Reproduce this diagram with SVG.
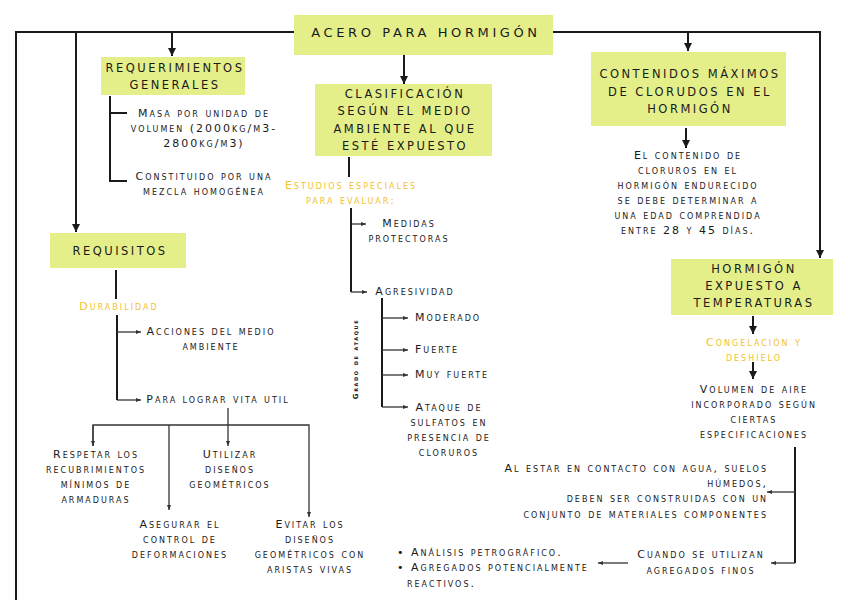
<svg xmlns="http://www.w3.org/2000/svg" width="848" height="600" viewBox="0 0 848 600">
<style>
.box{fill:#e4ef8a}
.t{font-family:"DejaVu Sans",sans-serif;font-size:11.5px;letter-spacing:2.5px;fill:#1a1a1a;text-anchor:middle}
.s{font-family:"DejaVu Sans",sans-serif;font-size:11px;font-variant:small-caps;letter-spacing:2px;fill:#1a1a1a;text-anchor:middle}
.o{fill:#f2c12e}
.ln{fill:none;stroke:#1a1a1a;stroke-width:2}
.th{fill:none;stroke:#333;stroke-width:1.3}
</style>
<defs>
<marker id="a" markerUnits="userSpaceOnUse" markerWidth="10" markerHeight="10" refX="8" refY="5" orient="auto"><path d="M0,1 L8,5 L0,9 z" fill="#1a1a1a"/></marker>
<marker id="d" markerUnits="userSpaceOnUse" markerWidth="6" markerHeight="6" refX="5" refY="3" orient="auto"><path d="M0,1 L5,3 L0,5 z" fill="#333"/></marker>
</defs>
<g id="connectors">
<path class="ln" d="M16,600 V32 H294 M553,32 H820 V258" marker-end="url(#a)"/>
<path class="ln" d="M76,32 V232" marker-end="url(#a)"/>
<path class="ln" d="M172,32 V56" marker-end="url(#a)"/>
<path class="ln" d="M404,55 V84" marker-end="url(#a)"/>
<path class="ln" d="M688,32 V51" marker-end="url(#a)"/>
<path class="ln" d="M686,128 V148" marker-end="url(#a)"/>
<path class="ln" d="M753,316 V334" marker-end="url(#a)"/>
<path class="ln" d="M753,362 V379" marker-end="url(#a)"/>
<path class="ln" d="M110,96 V181 H127 M110,113 H127"/>
<path class="ln" d="M349,157 V177"/>
<path class="ln" d="M351,208 V292"/>
<path class="th" d="M351,224 H366" marker-end="url(#d)"/>
<path class="th" d="M351,292 H367" marker-end="url(#d)"/>
<path class="ln" d="M382,298 V407"/>
<path class="th" d="M382,318 H408" marker-end="url(#d)"/>
<path class="th" d="M382,350 H408" marker-end="url(#d)"/>
<path class="th" d="M382,375 H408" marker-end="url(#d)"/>
<path class="th" d="M382,407 H408" marker-end="url(#d)"/>
<path class="ln" d="M116,270 V299"/>
<path class="ln" d="M117,315 V400"/>
<path class="th" d="M117,332 H141" marker-end="url(#d)"/>
<path class="th" d="M117,400 H141" marker-end="url(#d)"/>
<path class="th" d="M228,408 V446" marker-end="url(#d)"/>
<path class="th" d="M93,446 V425 H309 V517" marker-end="url(#d)"/>
<path class="th" d="M169,425 V510" marker-end="url(#d)"/>
<path class="th" d="M93,425 V446" marker-end="url(#d)"/>
<path class="ln" d="M795,447 V563"/>
<path class="th" d="M795,492 H767" marker-end="url(#d)"/>
<path class="th" d="M795,563 H771" marker-end="url(#d)"/>
<path class="th" d="M628,563 H598" marker-end="url(#d)"/>
</g>
<g id="acero">
<rect class="box" x="294" y="15" width="259" height="40"/>
<text class="t" x="426" y="37" style="font-size:13px;letter-spacing:3.6px">ACERO PARA HORMIGÓN</text>
</g>
<g id="requerimientos">
<rect class="box" x="101" y="57" width="144" height="38"/>
<text class="t" x="175" y="72">REQUERIMIENTOS</text>
<text class="t" x="175" y="89">GENERALES</text>
</g>
<g id="req-items">
<text class="s" x="204" y="117">Masa por unidad de</text>
<text class="s" x="204" y="132">volumen (2000kg/m3-</text>
<text class="s" x="204" y="147">2800kg/m3)</text>
<text class="s" x="204" y="180">Constituido por una</text>
<text class="s" x="204" y="195">mezcla homogénea</text>
</g>
<g id="clasificacion">
<rect class="box" x="315" y="84" width="177" height="72"/>
<text class="t" x="405" y="98">CLASIFICACIÓN</text>
<text class="t" x="405" y="115">SEGÚN EL MEDIO</text>
<text class="t" x="405" y="133">AMBIENTE AL QUE</text>
<text class="t" x="405" y="150">ESTÉ EXPUESTO</text>
</g>
<g id="estudios">
<text class="s o" x="351" y="189">Estudios especiales</text>
<text class="s o" x="351" y="204">para evaluar:</text>
<text class="s" x="409" y="227">Medidas</text>
<text class="s" x="409" y="242">protectoras</text>
<text class="s" x="415" y="295">Agresividad</text>
<text class="s" x="0" y="0" transform="translate(358,359) rotate(-90)" style="font-size:7px;letter-spacing:1.6px;font-weight:bold">Grado de ataque</text>
<text class="s" x="415" y="321" style="text-anchor:start">Moderado</text>
<text class="s" x="415" y="353" style="text-anchor:start">Fuerte</text>
<text class="s" x="415" y="378" style="text-anchor:start">Muy fuerte</text>
<text class="s" x="449" y="411">Ataque de</text>
<text class="s" x="449" y="426">sulfatos en</text>
<text class="s" x="449" y="441">presencia de</text>
<text class="s" x="449" y="456">cloruros</text>
</g>
<g id="requisitos">
<rect class="box" x="50" y="233" width="136" height="35"/>
<text class="t" x="120" y="255">REQUISITOS</text>
</g>
<g id="durabilidad">
<text class="s o" x="119" y="310">Durabilidad</text>
<text class="s" x="211" y="335">Acciones del medio</text>
<text class="s" x="211" y="350">ambiente</text>
<text class="s" x="218" y="403">Para lograr vita util</text>
<text class="s" x="96" y="458">Respetar los</text>
<text class="s" x="96" y="473">recubrimientos</text>
<text class="s" x="96" y="488">mínimos de</text>
<text class="s" x="96" y="503">armaduras</text>
<text class="s" x="230" y="458">Utilizar</text>
<text class="s" x="230" y="473">diseños</text>
<text class="s" x="230" y="488">geométricos</text>
<text class="s" x="180" y="528">Asegurar el</text>
<text class="s" x="180" y="543">control de</text>
<text class="s" x="180" y="558">deformaciones</text>
<text class="s" x="310" y="528">Evitar los</text>
<text class="s" x="310" y="543">diseños</text>
<text class="s" x="310" y="558">geométricos con</text>
<text class="s" x="310" y="573">aristas vivas</text>
</g>
<g id="contenidos">
<rect class="box" x="591" y="52" width="195" height="74"/>
<text class="t" x="690" y="78">CONTENIDOS MÁXIMOS</text>
<text class="t" x="690" y="96">DE CLORUDOS EN EL</text>
<text class="t" x="690" y="113">HORMIGÓN</text>
</g>
<g id="contenido-texto">
<text class="s" x="688" y="159">El contenido de</text>
<text class="s" x="688" y="174">cloruros en el</text>
<text class="s" x="688" y="189">hormigón endurecido</text>
<text class="s" x="688" y="204">se debe determinar a</text>
<text class="s" x="688" y="219">una edad comprendida</text>
<text class="s" x="688" y="234">entre 28 y 45 días.</text>
</g>
<g id="hormigon-expuesto">
<rect class="box" x="671" y="259" width="162" height="56"/>
<text class="t" x="754" y="273">HORMIGÓN</text>
<text class="t" x="754" y="290">EXPUESTO A</text>
<text class="t" x="754" y="307">TEMPERATURAS</text>
</g>
<g id="congelacion">
<text class="s o" x="754" y="346">Congelación y</text>
<text class="s o" x="754" y="361">deshielo</text>
<text class="s" x="754" y="393">Volumen de aire</text>
<text class="s" x="754" y="408">incorporado según</text>
<text class="s" x="754" y="423">ciertas</text>
<text class="s" x="754" y="438">especificaciones</text>
</g>
<g id="contacto">
<text class="s" x="768" y="472" style="text-anchor:end">Al estar en contacto con agua, suelos</text>
<text class="s" x="768" y="487" style="text-anchor:end">húmedos,</text>
<text class="s" x="768" y="502" style="text-anchor:end">deben ser construidas con un</text>
<text class="s" x="768" y="518" style="text-anchor:end">conjunto de materiales componentes</text>
</g>
<g id="agregados">
<text class="s" x="701" y="558">Cuando se utilizan</text>
<text class="s" x="701" y="574">agregados finos</text>
<text class="s" x="397" y="556" style="text-anchor:start">• Análisis petrográfico.</text>
<text class="s" x="397" y="571" style="text-anchor:start">• Agregados potencialmente</text>
<text class="s" x="407" y="587" style="text-anchor:start">reactivos.</text>
</g>
</svg>
